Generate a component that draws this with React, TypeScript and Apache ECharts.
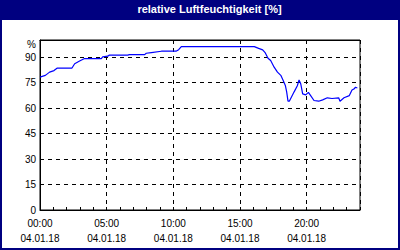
import React, { useEffect, useRef } from "react";
import * as echarts from "echarts";

const hours: number[] = [
  0.0, 0.4, 0.72, 1.05, 1.3, 2.4, 2.6, 2.97, 3.34, 4.6, 4.7, 5.08, 5.2, 6.58, 6.7,
  7.85, 7.97, 8.35, 9.1, 10.2, 10.4, 10.6, 16.07, 16.4, 16.7, 16.9, 17.1, 17.3,
  17.56, 17.81, 18.06, 18.24, 18.4, 18.5, 18.6, 18.7, 19.06, 19.3, 19.43, 19.56,
  19.7, 19.93, 20.13, 20.3, 20.55, 20.9, 21.2, 21.55, 21.9, 22.4, 22.5, 22.8,
  23.2, 23.4, 23.54, 23.67, 23.8,
];
const humidity: number[] = [
  78.2, 79.2, 81.1, 82, 83.5, 83.5, 86, 87.6, 89.1, 89.1, 90.1, 90.5, 91.1, 91.1,
  91.4, 91.4, 92.2, 92.6, 93.4, 93.4, 94.3, 96.1, 96.1, 95.1, 94.2, 92.4, 89.3,
  87.9, 84, 81.1, 79.2, 76.2, 73.3, 69.5, 64, 64, 69.5, 73.1, 76.5, 74.1, 68.3,
  67.7, 69.2, 67.3, 64.4, 64, 64.8, 66, 65.6, 66, 64, 66, 67.3, 70.6, 71.2, 72.2,
  71.8,
];
const dateLabel = "04.01.18";
const titleText = "relative Luftfeuchtigkeit [%]";
const unitLabel = "%";

const FONT = "Liberation Sans";

export default function App() {
  const ref = useRef<HTMLDivElement>(null);
  useEffect(() => {
    if (!ref.current) return;
    const chart = echarts.init(ref.current, null, { renderer: "svg" });
    const data = hours.map((h, i) => [h, humidity[i]]);
    const pad = (n: number) => (n < 10 ? "0" + n : "" + n);
    chart.setOption({
      animation: false,
      backgroundColor: "#ffffff",
      graphic: [
        { type: "rect", left: 0, top: 0, shape: { width: 400, height: 20 }, style: { fill: "#000080" }, z: 0 },
        { type: "rect", left: 0, top: 0, shape: { width: 2, height: 250 }, style: { fill: "#000080" }, z: 0 },
        { type: "rect", left: 398, top: 0, shape: { width: 2, height: 250 }, style: { fill: "#000080" }, z: 0 },
        { type: "rect", left: 0, top: 248, shape: { width: 400, height: 2 }, style: { fill: "#000080" }, z: 0 },
        {
          type: "text",
          x: 209.5,
          y: 9,
          style: {
            text: titleText,
            fill: "#ffffff",
            font: `bold 11px "${FONT}"`,
            textAlign: "center",
            textVerticalAlign: "middle",
          },
          z: 5,
        },
      ],
      grid: { left: 40, top: 40, right: 40, bottom: 40, show: true, borderColor: "#000", borderWidth: 1, backgroundColor: "transparent" },
      xAxis: [
        {
          type: "value",
          position: "bottom",
          min: 0,
          max: 24,
          interval: 1,
          axisLine: { show: true, onZero: false, lineStyle: { color: "#000", width: 1 } },
          axisTick: { show: true, inside: true, length: 3, lineStyle: { color: "#000" } },
          splitLine: { show: false },
          axisLabel: {
            show: true,
            margin: 6,
            color: "#000",
            fontFamily: FONT,
            fontSize: 10,
            lineHeight: 15,
            showMaxLabel: true,
            formatter: (v: number) => (v % 5 === 0 && v < 24 ? `${pad(v)}:00\n${dateLabel}` : ""),
          },
        },
        {
          type: "value",
          position: "top",
          min: 0,
          max: 24,
          interval: 5,
          axisLine: { show: true, onZero: false, lineStyle: { color: "#000", width: 1 } },
          axisTick: { show: false },
          axisLabel: { show: false },
          splitLine: { show: true, lineStyle: { color: "#000", type: [4, 4], width: 1 } },
        },
      ],
      yAxis: {
        type: "value",
        min: 0,
        max: 100,
        interval: 15,
        axisLine: { show: true, lineStyle: { color: "#000", width: 1 } },
        axisTick: { show: false },
        splitLine: { show: true, lineStyle: { color: "#000", type: [4, 4], width: 1 } },
        axisLabel: {
          margin: 4,
          color: "#000",
          fontFamily: FONT,
          fontSize: 10,
          showMaxLabel: true,
          formatter: (v: number) => (v === 100 ? `{u|${unitLabel}}` : String(v)),
          rich: {
            u: { fontFamily: FONT, fontSize: 10, color: "#000", padding: [8, 0, 0, 0] },
          },
        },
      },
      series: [
        {
          type: "line",
          xAxisIndex: 0,
          data,
          showSymbol: false,
          symbol: "none",
          lineStyle: { color: "#0000ff", width: 1.2 },
          z: 3,
        },
      ],
    });
    return () => chart.dispose();
  }, []);
  return (
    <div
      ref={ref}
      style={{ position: "absolute", left: 0, top: 0, width: 400, height: 250 }}
    />
  );
}
